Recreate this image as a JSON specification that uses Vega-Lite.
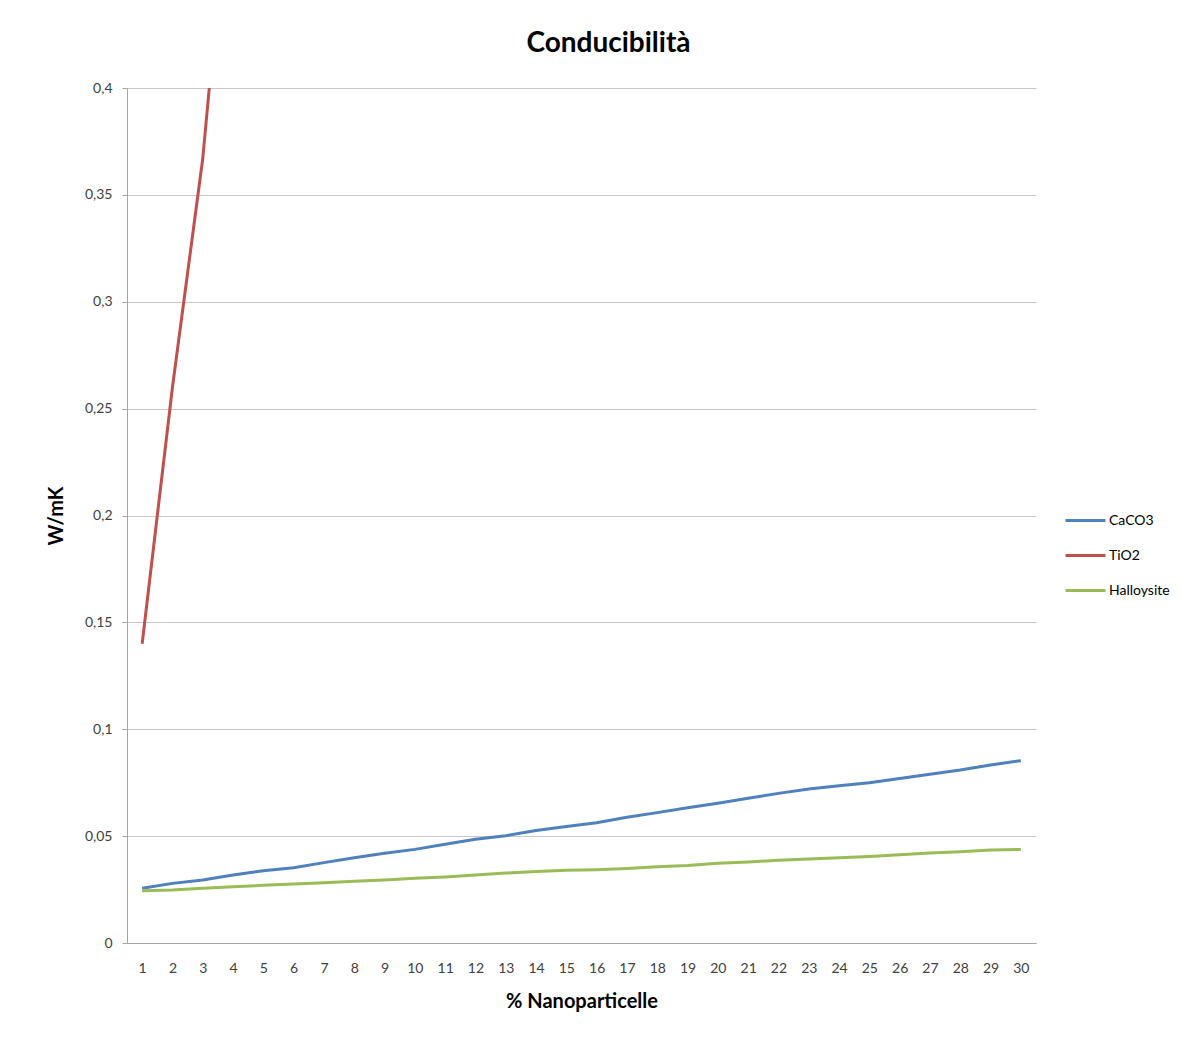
{
  "$schema": "https://vega.github.io/schema/vega-lite/v6.json",
  "autosize": {"type": "none"},
  "padding": {"left": 127, "top": 88, "right": 146, "bottom": 94},
  "width": 909,
  "height": 855,
  "background": "white",
  "title": {"text": "Conducibilità", "fontSize": 28, "font": "Lato", "fontWeight": "bold", "color": "#000000", "anchor": "middle", "dx": 27, "offset": 23},
  "config": {
    "view": {"stroke": null},
    "font": "Lato",
    "axis": {"labelFont": "Lato", "titleFont": "Lato", "labelColor": "#404040", "labelFontSize": 14, "titleFontSize": 20, "titleFontWeight": "bold", "titleColor": "#000000", "domainColor": "#A6A6A6", "tickColor": "#A6A6A6", "gridColor": "#C8C8C8"}
  },
  "data": {"values": [
    {"x": 1, "s": "CaCO3", "v": 0.0256}, {"x": 2, "s": "CaCO3", "v": 0.0279}, {"x": 3, "s": "CaCO3", "v": 0.0295}, {"x": 4, "s": "CaCO3", "v": 0.0318}, {"x": 5, "s": "CaCO3", "v": 0.0338},
    {"x": 6, "s": "CaCO3", "v": 0.0352}, {"x": 7, "s": "CaCO3", "v": 0.0376}, {"x": 8, "s": "CaCO3", "v": 0.0399}, {"x": 9, "s": "CaCO3", "v": 0.0420}, {"x": 10, "s": "CaCO3", "v": 0.0438},
    {"x": 11, "s": "CaCO3", "v": 0.0462}, {"x": 12, "s": "CaCO3", "v": 0.0485}, {"x": 13, "s": "CaCO3", "v": 0.0502}, {"x": 14, "s": "CaCO3", "v": 0.0526}, {"x": 15, "s": "CaCO3", "v": 0.0545},
    {"x": 16, "s": "CaCO3", "v": 0.0563}, {"x": 17, "s": "CaCO3", "v": 0.0588}, {"x": 18, "s": "CaCO3", "v": 0.0610}, {"x": 19, "s": "CaCO3", "v": 0.0633}, {"x": 20, "s": "CaCO3", "v": 0.0654},
    {"x": 21, "s": "CaCO3", "v": 0.0677}, {"x": 22, "s": "CaCO3", "v": 0.0700}, {"x": 23, "s": "CaCO3", "v": 0.0720}, {"x": 24, "s": "CaCO3", "v": 0.0736}, {"x": 25, "s": "CaCO3", "v": 0.0750},
    {"x": 26, "s": "CaCO3", "v": 0.0770}, {"x": 27, "s": "CaCO3", "v": 0.0789}, {"x": 28, "s": "CaCO3", "v": 0.0809}, {"x": 29, "s": "CaCO3", "v": 0.0833}, {"x": 30, "s": "CaCO3", "v": 0.0853},
    {"x": 1, "s": "TiO2", "v": 0.140}, {"x": 2, "s": "TiO2", "v": 0.260}, {"x": 3, "s": "TiO2", "v": 0.367}, {"x": 4, "s": "TiO2", "v": 0.520},
    {"x": 1, "s": "Halloysite", "v": 0.0245}, {"x": 2, "s": "Halloysite", "v": 0.0248}, {"x": 3, "s": "Halloysite", "v": 0.0256}, {"x": 4, "s": "Halloysite", "v": 0.0263}, {"x": 5, "s": "Halloysite", "v": 0.0270},
    {"x": 6, "s": "Halloysite", "v": 0.0276}, {"x": 7, "s": "Halloysite", "v": 0.0282}, {"x": 8, "s": "Halloysite", "v": 0.0289}, {"x": 9, "s": "Halloysite", "v": 0.0295}, {"x": 10, "s": "Halloysite", "v": 0.0303},
    {"x": 11, "s": "Halloysite", "v": 0.0309}, {"x": 12, "s": "Halloysite", "v": 0.0318}, {"x": 13, "s": "Halloysite", "v": 0.0327}, {"x": 14, "s": "Halloysite", "v": 0.0334}, {"x": 15, "s": "Halloysite", "v": 0.0340},
    {"x": 16, "s": "Halloysite", "v": 0.0343}, {"x": 17, "s": "Halloysite", "v": 0.0349}, {"x": 18, "s": "Halloysite", "v": 0.0357}, {"x": 19, "s": "Halloysite", "v": 0.0363}, {"x": 20, "s": "Halloysite", "v": 0.0373},
    {"x": 21, "s": "Halloysite", "v": 0.0379}, {"x": 22, "s": "Halloysite", "v": 0.0387}, {"x": 23, "s": "Halloysite", "v": 0.0393}, {"x": 24, "s": "Halloysite", "v": 0.0399}, {"x": 25, "s": "Halloysite", "v": 0.0405},
    {"x": 26, "s": "Halloysite", "v": 0.0413}, {"x": 27, "s": "Halloysite", "v": 0.0421}, {"x": 28, "s": "Halloysite", "v": 0.0427}, {"x": 29, "s": "Halloysite", "v": 0.0435}, {"x": 30, "s": "Halloysite", "v": 0.0438}
  ]},
  "mark": {"type": "line", "strokeWidth": 3, "clip": true},
  "encoding": {
    "x": {"field": "x", "type": "ordinal", "sort": "ascending",
      "scale": {"type": "point", "padding": 0.5},
      "axis": {"title": "% Nanoparticelle", "labelAngle": 0, "ticks": false, "labelPadding": 18, "titlePadding": 16, "grid": false}},
    "y": {"field": "v", "type": "quantitative",
      "scale": {"domain": [0, 0.4], "nice": false},
      "axis": {"title": "W/mK", "values": [0, 0.05, 0.1, 0.15, 0.2, 0.25, 0.3, 0.35, 0.4], "format": ".2~f", "labelExpr": "replace(datum.label, '.', ',')", "tickSize": 5, "labelPadding": 10, "titlePadding": 18, "grid": true}},
    "color": {"field": "s", "type": "nominal",
      "scale": {"domain": ["CaCO3", "TiO2", "Halloysite"], "range": ["#4F81BD", "#C0504D", "#9BBB59"]},
      "legend": {"title": null, "orient": "none", "legendX": 937, "legendY": 411, "symbolType": "stroke", "symbolSize": 1600, "symbolStrokeWidth": 3, "labelFontSize": 14, "labelFont": "Lato", "labelColor": "#000000", "rowPadding": 6, "labelOffset": 2}}
  }
}
